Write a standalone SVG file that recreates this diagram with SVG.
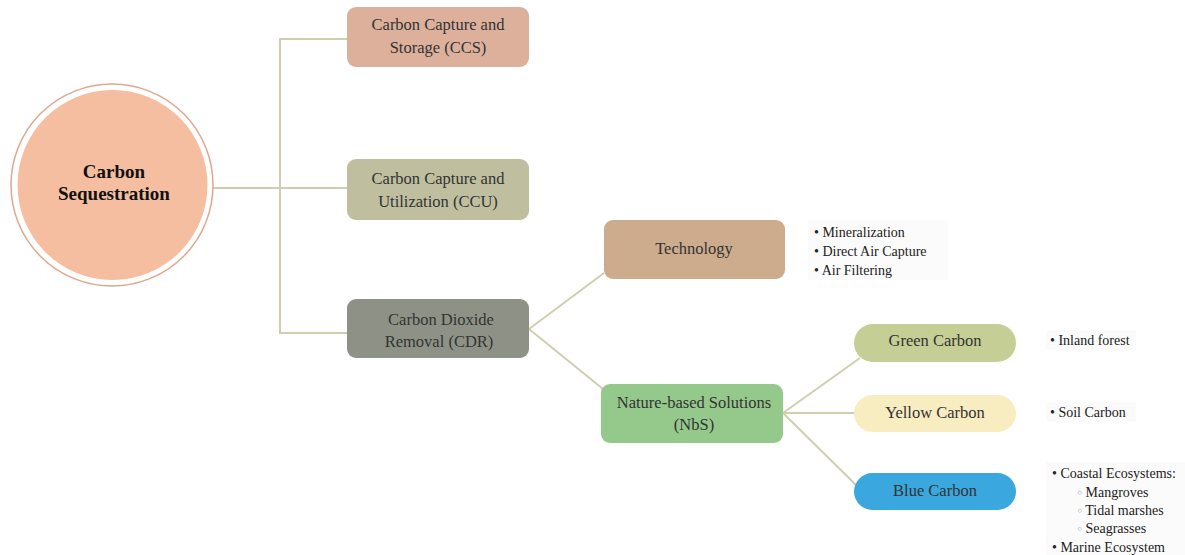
<svg xmlns="http://www.w3.org/2000/svg" width="1185" height="555" viewBox="0 0 1185 555">
<style>
.box{stroke:none}
.t{font-family:"Liberation Serif","Times New Roman",serif;font-size:16.5px;fill:#333;text-anchor:middle}
.b{font-family:"Liberation Serif","Times New Roman",serif;font-size:14px;fill:#222}
.sub{fill:#bbb}
.conn{stroke:#cfcfb0;stroke-width:2;fill:none}
.bg{fill:#fbfbfb}
</style>
<rect width="1185" height="555" fill="#fff"/>
<g id="connectors">
<path class="conn" d="M213 188 H347"/>
<path class="conn" d="M347 39 H280 V333 H347"/>
<path class="conn" d="M529 329 L604 273"/>
<path class="conn" d="M529 329 L603 389"/>
<path class="conn" d="M783 413 L860 358"/>
<path class="conn" d="M783 413 H855"/>
<path class="conn" d="M783 413 L857 486"/>
</g>
<g id="root">
<circle cx="112" cy="185" r="101" fill="#fff" stroke="#dca890" stroke-width="1.5"/>
<circle cx="112.5" cy="185" r="95" fill="#f5bea0"/>
<text x="114" y="178" font-family="Liberation Serif,Times New Roman,serif" font-size="19" font-weight="bold" fill="#111" text-anchor="middle">Carbon</text>
<text x="114" y="200" font-family="Liberation Serif,Times New Roman,serif" font-size="19" font-weight="bold" fill="#111" text-anchor="middle">Sequestration</text>
</g>
<g id="ccs">
<rect class="box" x="347" y="7" width="182" height="60" rx="9" fill="#ddb09c"/>
<text class="t" x="438" y="30">Carbon Capture and</text>
<text class="t" x="438" y="53">Storage (CCS)</text>
</g>
<g id="ccu">
<rect class="box" x="347" y="159" width="182" height="61" rx="9" fill="#bfbf9f"/>
<text class="t" x="438" y="184">Carbon Capture and</text>
<text class="t" x="438" y="207">Utilization (CCU)</text>
</g>
<g id="cdr">
<rect class="box" x="347" y="299" width="182" height="59" rx="9" fill="#8e9286"/>
<text class="t" x="441" y="325">Carbon Dioxide</text>
<text class="t" x="439" y="347">Removal (CDR)</text>
</g>
<g id="technology">
<rect class="box" x="604" y="220" width="181" height="59" rx="9" fill="#cdab8d"/>
<text class="t" x="694" y="254">Technology</text>
</g>
<g id="technology-list">
<rect class="bg" x="808" y="220" width="140" height="60"/>
<text class="b" x="814" y="237">•  Mineralization</text>
<text class="b" x="814" y="256">•  Direct Air Capture</text>
<text class="b" x="814" y="275">•  Air Filtering</text>
</g>
<g id="nbs">
<rect class="box" x="601" y="384" width="182" height="59" rx="9" fill="#95c98b"/>
<text class="t" x="694" y="408">Nature-based Solutions</text>
<text class="t" x="694" y="430">(NbS)</text>
</g>
<g id="green">
<rect class="box" x="854" y="324" width="162" height="38" rx="19" fill="#c5cf95"/>
<text class="t" x="935" y="346">Green Carbon</text>
</g>
<g id="green-list">
<rect class="bg" x="1046" y="330" width="90" height="20"/>
<text class="b" x="1050" y="345">• Inland forest</text>
</g>
<g id="yellow">
<rect class="box" x="854" y="395" width="162" height="37" rx="18.5" fill="#f8ecc1"/>
<text class="t" x="935" y="418">Yellow Carbon</text>
</g>
<g id="yellow-list">
<rect class="bg" x="1046" y="402" width="90" height="20"/>
<text class="b" x="1050" y="417">• Soil Carbon</text>
</g>
<g id="blue">
<rect class="box" x="854" y="473" width="162" height="37" rx="18.5" fill="#3aa7de"/>
<text class="t" x="935" y="496">Blue Carbon</text>
</g>
<g id="blue-list">
<rect class="bg" x="1046" y="462" width="139" height="93"/>
<text class="b" x="1052" y="478">• Coastal Ecosystems:</text>
<text class="b" x="1077" y="497"><tspan class="sub">◦</tspan>  Mangroves</text>
<text class="b" x="1077" y="515"><tspan class="sub">◦</tspan>  Tidal marshes</text>
<text class="b" x="1077" y="533"><tspan class="sub">◦</tspan>  Seagrasses</text>
<text class="b" x="1052" y="552">• Marine Ecosystem</text>
</g>
</svg>
